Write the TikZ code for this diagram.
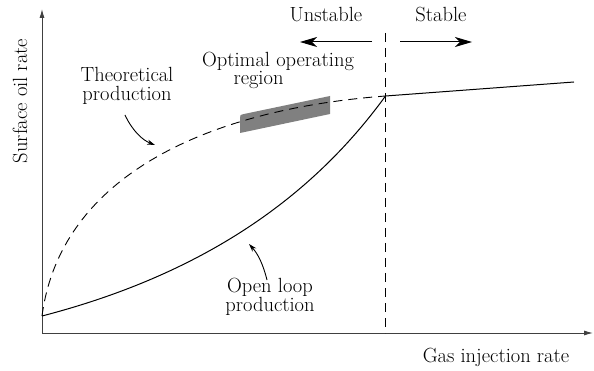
\documentclass[tikz,border=0pt]{standalone}
\usetikzlibrary{arrows.meta}
\begin{document}
\begin{tikzpicture}[x=1pt,y=-1pt,
  lbl/.style={font=\fontsize{20.5}{19}\selectfont, inner sep=0pt, align=center},
  curveline/.style={line width=1pt},
  dashline/.style={line width=0.9pt, dash pattern=on 9pt off 6pt},
  axis/.style={line width=1pt, draw=black!75, -{Latex[length=9pt,width=5pt]}},
  bigarrow/.style={line width=1pt, -{Stealth[length=17pt,width=10pt,inset=5pt]}},
  ptr/.style={line width=0.9pt, -{Stealth[length=8pt,width=5pt]}}]
\useasboundingbox (0,0) rectangle (594,371);
% axes
\coordinate (O) at (42,333);
\coordinate (ytip) at (42,9);
\coordinate (xtip) at (593,333);
\draw[axis] (O) -- (ytip);
\draw[axis] (O) -- (xtip);
% key points
\coordinate (start) at (42,316);
\coordinate (knee) at (385.5,96);
\coordinate (far) at (574,82);
% optimal region band
\fill[black!50] (240,118) .. controls (240,115) .. (244,114) -- (330,96) -- (330,114) -- (240,133) -- cycle;
% theoretical production (dashed)
\draw[dashline] (start) .. controls (60,180) and (200,110) .. (knee);
% open loop production
\draw[curveline] (start) .. controls (200,275) and (310,200) .. (knee);
% stable line
\draw[curveline] (knee) -- (far);
% vertical dashed boundary
\coordinate (vtop) at (385.5,33);
\coordinate (vbot) at (385.5,333);
\draw[dashline] (vtop) -- (vbot);
% Unstable / Stable
\node[lbl] (unst) at (326,15) {Unstable};
\node[lbl] (stab) at (441,15) {Stable};
\coordinate (ua) at (372,42);
\coordinate (ub) at (300,42);
\coordinate (sa) at (400,42);
\coordinate (sb) at (472,42);
\draw[bigarrow] (ua) -- (ub);
\draw[bigarrow] (sa) -- (sb);
% labels
\node[lbl] (opt1) at (278,61) {Optimal operating};
\node[lbl] (opt2) at (258.5,80) {region};
\node[lbl] (theo) at (127,86) {Theoretical\\production};
\node[lbl] (open) at (270,297) {Open loop\\production};
\node[lbl, rotate=90] (ylab) at (20,101) {Surface oil rate};
\node[lbl] (xlab) at (496,357) {Gas injection rate};
% pointer arrows
\coordinate (ta) at (125,115);
\coordinate (tb) at (155,145);
\draw[ptr] (ta) .. controls (132,130) and (142,140) .. (tb);
\coordinate (oa) at (267,280);
\coordinate (ob) at (249,244);
\draw[ptr] (oa) .. controls (263,264) and (258,254) .. (ob);
\end{tikzpicture}
\end{document}
